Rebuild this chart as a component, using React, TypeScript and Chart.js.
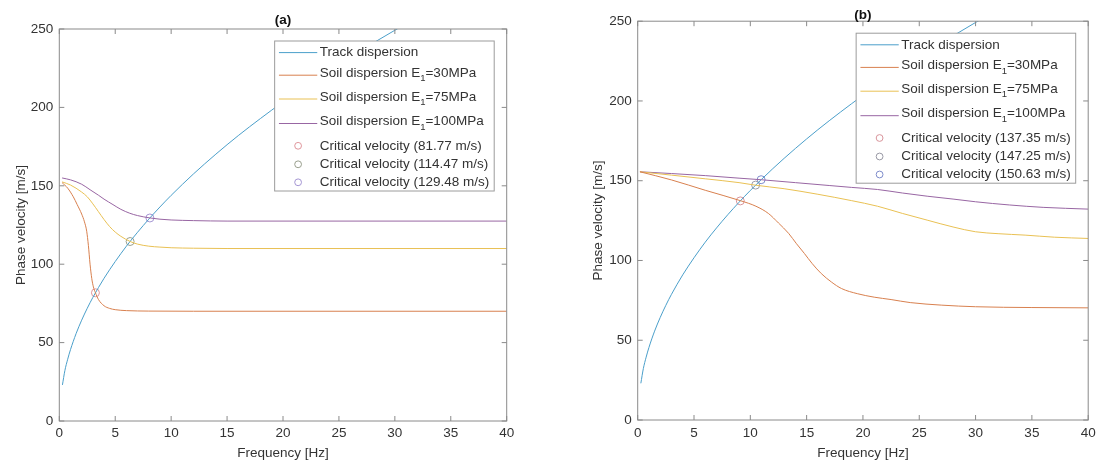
import { useEffect, useRef } from 'react';
import { Chart, registerables } from 'chart.js';

Chart.register(...registerables);

const FONT = '"Liberation Sans", Arial, Helvetica, sans-serif';

// ---------- shared axes ----------
const xTickValues = [0, 5, 10, 15, 20, 25, 30, 35, 40];
const yTickValues = [0, 50, 100, 150, 200, 250];
const xAxisTitle = 'Frequency [Hz]';
const yAxisTitle = 'Phase velocity [m/s]';
const soilModuli = [30, 75, 100];

// ---------- track dispersion (same in both panels) ----------
const trackFreq = [0.28, 0.5, 0.75, 1, 1.5, 2, 2.5, 3, 4, 5, 6, 7, 8, 9, 10, 12, 14, 16, 18, 20, 22, 24, 26, 28, 30, 32];
const trackVel = [23, 32.2, 39.4, 45.5, 55.7, 64.3, 71.9, 78.8, 91, 101.7, 111.5, 120.4, 128.7, 136.5, 143.9, 157.6, 170.2, 182, 193, 203.5, 213.4, 222.9, 232, 240.8, 249.2, 257.4];

// ---------- panel (a) ----------
const aSoil30Freq = [0.25, 0.75, 1.25, 1.6, 2.0, 2.25, 2.45, 2.6, 2.75, 2.9, 3.05, 3.23, 3.5, 4, 4.5, 5, 6, 8, 12, 40];
const aSoil30Vel = [152, 148.5, 143, 138, 132, 127, 121, 112, 100, 91, 85.5, 81.8, 77.5, 73.5, 71.8, 71, 70.4, 70.1, 70, 70];
const aSoil75Freq = [0.25, 1, 2, 2.5, 3, 3.5, 4, 4.5, 5, 5.5, 6.33, 7, 8, 9, 10, 12, 15, 40];
const aSoil75Vel = [152.5, 150.5, 146, 143, 138.5, 133.5, 128.5, 124, 120.5, 117.8, 114.5, 112.8, 111.5, 110.9, 110.5, 110.2, 110, 110];
const aSoil100Freq = [0.25, 1, 2, 2.75, 3.5, 4, 4.8, 5.5, 6.3, 7, 8.1, 9, 10, 12, 15, 40];
const aSoil100Vel = [155, 153.8, 151, 147.5, 144, 141.5, 138, 135, 132.5, 131, 129.5, 128.7, 128.2, 127.8, 127.5, 127.5];
const aCritFreq = [3.23, 6.33, 8.1];
const aCritVel = [81.77, 114.47, 129.48];

// ---------- panel (b) ----------
const bSoil30Freq = [0.2, 3, 6, 9.16, 10.5, 11.6, 12.5, 13.4, 14.1, 14.8, 15.5, 16.3, 17.2, 18.1, 19.5, 21, 22.5, 24.2, 27, 30, 35, 40];
const bSoil30Vel = [155.6, 150.5, 144, 137.4, 134, 129.5, 123.5, 117, 110.5, 104.4, 98, 91.8, 86.5, 82.4, 79.2, 77, 75.5, 73.6, 72, 71, 70.5, 70.3];
const bSoil75Freq = [0.2, 3, 6, 9, 10.45, 13, 16, 19, 21.3, 23.5, 25.7, 28, 30, 32, 34.4, 37, 40];
const bSoil75Vel = [155.6, 153.5, 151.2, 148.8, 147.2, 145, 141.5, 137.5, 134, 129.5, 125.3, 121, 118, 116.8, 115.9, 114.6, 113.8];
const bSoil100Freq = [0.2, 3, 6, 9, 11, 14, 17, 19, 21.3, 23.5, 25.7, 28, 30, 33, 36, 40];
const bSoil100Vel = [155.6, 154.5, 153.2, 151.6, 150.6, 148.8, 147, 145.8, 144.5, 142.3, 140.3, 138.5, 136.8, 134.8, 133.3, 132.2];
const bCritFreq = [9.11, 10.47, 10.96];
const bCritVel = [137.35, 147.25, 150.63];

// ---------- styles ----------
const TRACK_COLOR = '#4b9fca';
const SOIL_COLORS = ['#d8804f', '#e9c154', '#9866a3'];
const AXIS_COLOR = '#8a8a8a';
const TEXT_COLOR = '#333333';
const LEGEND_BORDER = '#9c9c9c';

type Layout = {
  canvasLeft: number;
  canvasWidth: number;
  areaLeft: number;
  areaRight: number;
  areaTop: number;
  areaBottom: number;
  yTitleCenter: number;
  titleGap: number;
  xTickPad: number;
};

type PanelDef = {
  title: string;
  layout: Layout;
  soilFreq: number[][];
  soilVel: number[][];
  critFreq: number[];
  critVel: number[];
  critColors: string[];
};

const panels: PanelDef[] = [
  {
    title: '(a)',
    layout: { canvasLeft: 0, canvasWidth: 560, areaLeft: 59.3, areaRight: 506.7, areaTop: 29, areaBottom: 421, yTitleCenter: 21.7, titleGap: 9, xTickPad: 4.5 },
    soilFreq: [aSoil30Freq, aSoil75Freq, aSoil100Freq],
    soilVel: [aSoil30Vel, aSoil75Vel, aSoil100Vel],
    critFreq: aCritFreq,
    critVel: aCritVel,
    critColors: ['#e0969c', '#9aa08e', '#a596d4'],
  },
  {
    title: '(b)',
    layout: { canvasLeft: 560, canvasWidth: 541, areaLeft: 77.7, areaRight: 533.3, areaTop: 21.2, areaBottom: 420, yTitleCenter: 38, titleGap: 6, xTickPad: 5.3 },
    soilFreq: [bSoil30Freq, bSoil75Freq, bSoil100Freq],
    soilVel: [bSoil30Vel, bSoil75Vel, bSoil100Vel],
    critFreq: bCritFreq,
    critVel: bCritVel,
    critColors: ['#d9959c', '#9a9aa6', '#7f8dcc'],
  },
];

type LegendItem = { kind: 'line' | 'circle'; color: string; text: string; sub?: string; after?: string };

const pts = (f: number[], v: number[]) => f.map((x, i) => ({ x, y: v[i] }));

function makeOverlay(title: string, titleGap: number, items: LegendItem[]) {
  return {
    id: 'overlay',
    afterDatasetsDraw(chart: any) {
      const { ctx, chartArea: a } = chart;
      const xs = chart.scales.x;
      const ys = chart.scales.y;
      ctx.save();
      // axes box + inward ticks
      ctx.strokeStyle = AXIS_COLOR;
      ctx.lineWidth = 1;
      ctx.beginPath();
      for (const v of xTickValues) {
        const p = xs.getPixelForValue(v);
        ctx.moveTo(p, a.bottom);
        ctx.lineTo(p, a.bottom - 5);
        ctx.moveTo(p, a.top);
        ctx.lineTo(p, a.top + 5);
      }
      for (const v of yTickValues) {
        const p = ys.getPixelForValue(v);
        ctx.moveTo(a.left, p);
        ctx.lineTo(a.left + 5, p);
        ctx.moveTo(a.right, p);
        ctx.lineTo(a.right - 5, p);
      }
      ctx.stroke();
      ctx.strokeRect(a.left, a.top, a.right - a.left, a.bottom - a.top);

      // legend
      const mainFont = `13.5px ${FONT}`;
      const subFont = `9.5px ${FONT}`;
      const widths = items.map((it) => {
        ctx.font = mainFont;
        let w = ctx.measureText(it.text).width;
        if (it.sub) {
          ctx.font = subFont;
          w += ctx.measureText(it.sub).width;
          ctx.font = mainFont;
          w += ctx.measureText(it.after || '').width;
        }
        return w;
      });
      const textW = Math.max(...widths);
      const padL = 4.3;
      const sampleW = 38.3;
      const gap = 2.4;
      const padR = 5;
      const boxW = padL + sampleW + gap + textW + padR;
      const boxRight = a.right - 12.5;
      const boxLeft = boxRight - boxW;
      const boxTop = a.top + 12;
      const boxH = 150;
      ctx.fillStyle = '#ffffff';
      ctx.fillRect(boxLeft, boxTop, boxW, boxH);
      ctx.strokeStyle = LEGEND_BORDER;
      ctx.strokeRect(boxLeft, boxTop, boxW, boxH);
      const rowOffsets = [11.6, 32.2, 56, 80.5, 104.8, 123.3, 141.3];
      items.forEach((it, i) => {
        const y = boxTop + rowOffsets[i];
        const sx = boxLeft + padL;
        if (it.kind === 'line') {
          const ly = it.sub ? y + 2 : y;
          ctx.strokeStyle = it.color;
          ctx.lineWidth = 1;
          ctx.beginPath();
          ctx.moveTo(sx, ly);
          ctx.lineTo(sx + sampleW, ly);
          ctx.stroke();
        } else {
          ctx.strokeStyle = it.color;
          ctx.lineWidth = 1;
          ctx.beginPath();
          ctx.arc(sx + sampleW / 2, y, 3.4, 0, Math.PI * 2);
          ctx.stroke();
        }
        let tx = sx + sampleW + gap;
        ctx.fillStyle = TEXT_COLOR;
        ctx.textAlign = 'left';
        ctx.textBaseline = 'middle';
        ctx.font = mainFont;
        ctx.fillText(it.text, tx, y);
        if (it.sub) {
          tx += ctx.measureText(it.text).width;
          ctx.font = subFont;
          ctx.fillText(it.sub, tx, y + 5.5);
          tx += ctx.measureText(it.sub).width;
          ctx.font = mainFont;
          ctx.fillText(it.after || '', tx, y);
        }
      });

      // title
      ctx.fillStyle = '#111111';
      ctx.font = `bold 13.5px ${FONT}`;
      ctx.textAlign = 'center';
      ctx.textBaseline = 'middle';
      ctx.fillText(title, (a.left + a.right) / 2, a.top - titleGap);
      ctx.restore();
    },
  };
}

function Panel({ def }: { def: PanelDef }) {
  const ref = useRef<HTMLCanvasElement | null>(null);
  useEffect(() => {
    const canvas = ref.current;
    if (!canvas) return;
    const L = def.layout;
    const H = 463;
    const lineDs = (label: string, f: number[], v: number[], color: string) => ({
      label,
      data: pts(f, v),
      showLine: true,
      borderColor: color,
      backgroundColor: color,
      borderWidth: 1,
      pointRadius: 0,
      cubicInterpolationMode: 'monotone' as const,
    });
    const datasets: any[] = [];
    def.soilFreq.forEach((f, i) => {
      datasets.push(lineDs(`Soil ${soilModuli[i]}`, f, def.soilVel[i], SOIL_COLORS[i]));
    });
    datasets.push(lineDs('Track dispersion', trackFreq, trackVel, TRACK_COLOR));
    def.critFreq.forEach((f, i) => {
      datasets.push({
        label: `crit${i}`,
        data: [{ x: f, y: def.critVel[i] }],
        showLine: false,
        pointRadius: 4,
        pointBorderWidth: 1,
        pointBorderColor: def.critColors[i],
        pointBackgroundColor: 'rgba(0,0,0,0)',
      });
    });

    const items: LegendItem[] = [
      { kind: 'line', color: TRACK_COLOR, text: 'Track dispersion' },
      ...soilModuli.map((m, i) => ({
        kind: 'line' as const,
        color: SOIL_COLORS[i],
        text: 'Soil dispersion E',
        sub: '1',
        after: `=${m}MPa`,
      })),
      ...def.critVel.map((v, i) => ({
        kind: 'circle' as const,
        color: def.critColors[i],
        text: `Critical velocity (${v.toFixed(2)} m/s)`,
      })),
    ];

    const lh = 13.5 * 1.2;
    const chart = new Chart(canvas, {
      type: 'scatter',
      data: { datasets },
      options: {
        animation: false,
        responsive: false,
        devicePixelRatio: 1,
        layout: {
          padding: { left: 0, right: L.canvasWidth - L.areaRight, top: L.areaTop, bottom: 0 },
        },
        plugins: {
          legend: { display: false },
          tooltip: { enabled: false },
          title: { display: false },
        },
        scales: {
          x: {
            type: 'linear',
            min: 0,
            max: 40,
            grid: { display: false, drawTicks: false, tickLength: 0 },
            border: { display: false },
            afterBuildTicks: (s: any) => {
              s.ticks = xTickValues.map((value) => ({ value }));
            },
            afterFit: (s: any) => {
              s.height = H - L.areaBottom;
            },
            ticks: {
              autoSkip: false,
              maxRotation: 0,
              padding: L.xTickPad,
              color: TEXT_COLOR,
              font: { family: FONT, size: 13.5 },
            },
            title: {
              display: true,
              text: xAxisTitle,
              color: TEXT_COLOR,
              font: { family: FONT, size: 13.5 },
              padding: { top: 0, bottom: 1.5 },
            },
          },
          y: {
            type: 'linear',
            min: 0,
            max: 250,
            grid: { display: false, drawTicks: false, tickLength: 0 },
            border: { display: false },
            afterBuildTicks: (s: any) => {
              s.ticks = yTickValues.map((value) => ({ value }));
            },
            afterFit: (s: any) => {
              s.width = L.areaLeft;
            },
            ticks: {
              autoSkip: false,
              padding: 6,
              color: TEXT_COLOR,
              font: { family: FONT, size: 13.5 },
            },
            title: {
              display: true,
              text: yAxisTitle,
              color: TEXT_COLOR,
              font: { family: FONT, size: 13.5 },
              padding: { top: L.yTitleCenter - lh / 2, bottom: 0 },
            },
          },
        },
      },
      plugins: [makeOverlay(def.title, L.titleGap, items)],
    } as any);
    return () => chart.destroy();
  }, [def]);

  return (
    <canvas
      ref={ref}
      width={def.layout.canvasWidth}
      height={463}
      style={{ position: 'absolute', left: def.layout.canvasLeft, top: 0, width: def.layout.canvasWidth, height: 463 }}
    />
  );
}

export default function App() {
  return (
    <div style={{ position: 'absolute', left: 0, top: 0, width: 1101, height: 463, background: '#ffffff' }}>
      {panels.map((p) => (
        <Panel key={p.title} def={p} />
      ))}
    </div>
  );
}
